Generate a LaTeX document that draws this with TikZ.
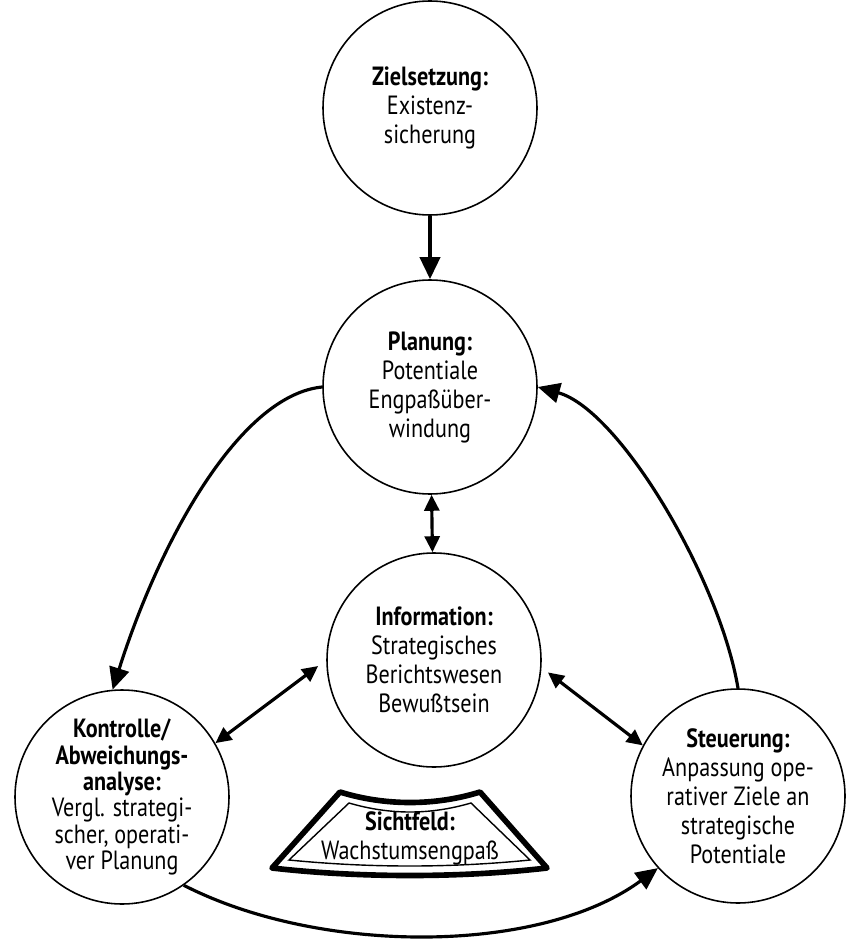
\documentclass[tikz,border=0pt]{standalone}
\usepackage{fontspec}
\setmainfont{PT Sans}[FakeStretch=0.84]
\usetikzlibrary{arrows.meta}

\tikzset{
  kreis/.style={draw, circle, line width=0.9pt, minimum size=42.8mm, inner sep=0pt,
    align=center, font=\fontsize{15}{16.5}\selectfont},
  pfeil/.style={line width=1.8pt, -{Triangle[length=4.4mm,width=4mm]}},
  doppelpfeil/.style={line width=1.8pt,
    {Triangle[length=3.2mm,width=3mm]}-{Triangle[length=3.2mm,width=3mm]}},
}

\begin{document}
\begin{tikzpicture}[x=0.2mm,y=-0.2mm]
  \useasboundingbox (0,0) rectangle (847,944);
  % circles
  \node[kreis] (ziel) at (430,108) {\textbf{Zielsetzung:}\\Existenz-\\sicherung};
  \node[kreis] (plan) at (430,387) {\textbf{Planung:}\\Potentiale\\Engpaßüber-\\windung};
  \node[kreis] (info) at (434,660) {\textbf{Information:}\\Strategisches\\Berichtswesen\\Bewußtsein};
  \node[kreis, font=\fontsize{15}{15}\selectfont] (kontr) at (122,797)
    {\textbf{Kontrolle/}\\\textbf{Abweichungs-}\\\textbf{analyse:}\\Vergl. strategi-\\scher, operati-\\ver Planung};
  \node[kreis] (steu) at (738,796)
    {\textbf{Steuerung:}\\Anpassung ope-\\rativer Ziele an\\strategische\\Potentiale};

  % sichtfeld
  \draw[line width=3.2pt, line join=round] (272,868) -- (340,792)
    .. controls (385,806) and (435,806) .. (480,792) -- (547,868)
    .. controls (460,878) and (360,878) .. cycle;
  \draw[line width=0.8pt] (289,860) -- (349,803)
    .. controls (390,815) and (430,815) .. (471,803) -- (530,860)
    .. controls (450,868) and (370,868) .. cycle;
  \node[font=\fontsize{15}{16.5}\selectfont, align=center] (sicht) at (410,838)
    {\textbf{Sichtfeld:}\\Wachstumsengpaß};

  % arrows
  \draw[pfeil, line width=2.2pt] (ziel) -- (plan);
  \draw[doppelpfeil] (plan) -- (info);
  \draw[doppelpfeil, shorten <=2mm] (info.180) -- (kontr.30);
  \draw[doppelpfeil, shorten <=1.6mm] (info.-4) -- (steu.152);
  \draw[pfeil] (plan.west) .. controls (240,395) and (160,540) .. (kontr.95);
  \draw[pfeil] (steu.north) .. controls (720,580) and (620,410) .. (plan.east);
  \draw[pfeil] (kontr.-55) .. controls (320,955) and (540,955) .. (steu.-138);
\end{tikzpicture}
\end{document}
